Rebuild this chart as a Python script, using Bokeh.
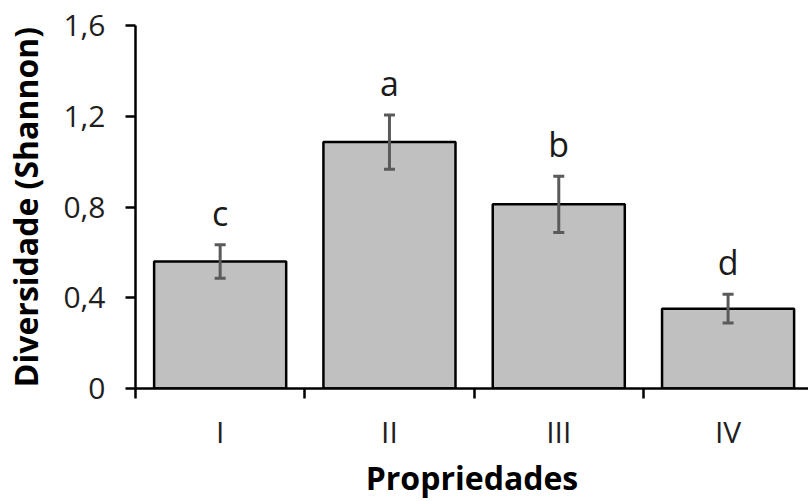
from bokeh.plotting import figure
from bokeh.models import Range1d, FixedTicker, Whisker, TeeHead, ColumnDataSource
from bokeh.embed import file_html
from bokeh.resources import INLINE
from bokeh.core.properties import value
import numpy as np

categories = ["I", "II", "III", "IV"]
means = [0.56, 1.086, 0.812, 0.352]
errors = [0.074, 0.12, 0.124, 0.063]
letters = ["c", "a", "b", "d"]
y_ticks = [0, 0.4, 0.8, 1.2, 1.6]
y_tick_labels = ["0", "0,4", "0,8", "1,2", "1,6"]

pos = np.arange(len(categories)) + 0.5
upper = [m + e for m, e in zip(means, errors)]
lower = [m - e for m, e in zip(means, errors)]
src = ColumnDataSource(dict(x=pos, top=means, upper=upper, lower=lower, letters=letters))

p = figure(width=808, height=501, output_backend="svg", toolbar_location=None,
           x_range=Range1d(0, 3.975), y_range=Range1d(0, 1.6),
           min_border_left=135, min_border_right=0, min_border_top=25, min_border_bottom=113)
p.outline_line_color = None
p.xgrid.visible = False
p.ygrid.visible = False
p.background_fill_color = "white"
p.border_fill_color = "white"

p.vbar(x="x", top="top", width=0.78, bottom=0, source=src,
       fill_color="#c0c0c0", line_color="black", line_width=2.5)

w = Whisker(base="x", upper="upper", lower="lower", source=src, level="overlay",
            line_color="#5a5a5a", line_width=3,
            upper_head=TeeHead(size=11, line_color="#5a5a5a", line_width=3),
            lower_head=TeeHead(size=11, line_color="#5a5a5a", line_width=3))
p.add_layout(w)

p.text(x="x", y="upper", text="letters", source=src, text_align="center",
       text_baseline="alphabetic", y_offset=-32, text_font=value("Open Sans"),
       text_font_size="34px", text_color="#1a1a1a")

font = "Open Sans"
# y axis
ya = p.yaxis[0]
ya.ticker = FixedTicker(ticks=y_ticks, minor_ticks=[])
ya.major_label_overrides = {t: l for t, l in zip(y_ticks, y_tick_labels)}
ya.axis_line_color = "black"
ya.axis_line_width = 2.5
ya.major_tick_line_color = "black"
ya.major_tick_line_width = 2.5
ya.major_tick_out = 10
ya.major_tick_in = 0
ya.minor_tick_line_color = None
ya.major_label_standoff = 20
ya.major_label_text_font = font
ya.major_label_text_font_size = "30px"
ya.major_label_text_color = "#1f1f1f"
ya.axis_label = "Diversidade (Shannon)"
ya.axis_label_text_font = font
ya.axis_label_text_font_style = "bold"
ya.axis_label_text_font_size = "32px"
ya.axis_label_text_color = "black"
ya.axis_label_standoff = 13

# x axis
xa = p.xaxis[0]
xa.ticker = FixedTicker(ticks=list(pos), minor_ticks=list(pos - 0.5))
xa.major_label_overrides = {float(t): c for t, c in zip(pos, categories)}
xa.axis_line_color = "black"
xa.axis_line_width = 2.5
xa.major_tick_out = 0
xa.major_tick_in = 0
xa.major_tick_line_color = None
xa.minor_tick_line_color = "black"
xa.minor_tick_line_width = 2.5
xa.minor_tick_out = 10
xa.minor_tick_in = 0
xa.major_label_standoff = 12
xa.major_label_text_font = font
xa.major_label_text_font_size = "30px"
xa.major_label_text_color = "#1f1f1f"
xa.axis_label = "Propriedades"
xa.axis_label_text_font = font
xa.axis_label_text_font_style = "bold"
xa.axis_label_text_font_size = "32px"
xa.axis_label_text_color = "black"
xa.axis_label_standoff = 1

open("out.html", "w").write(file_html(p, INLINE))
